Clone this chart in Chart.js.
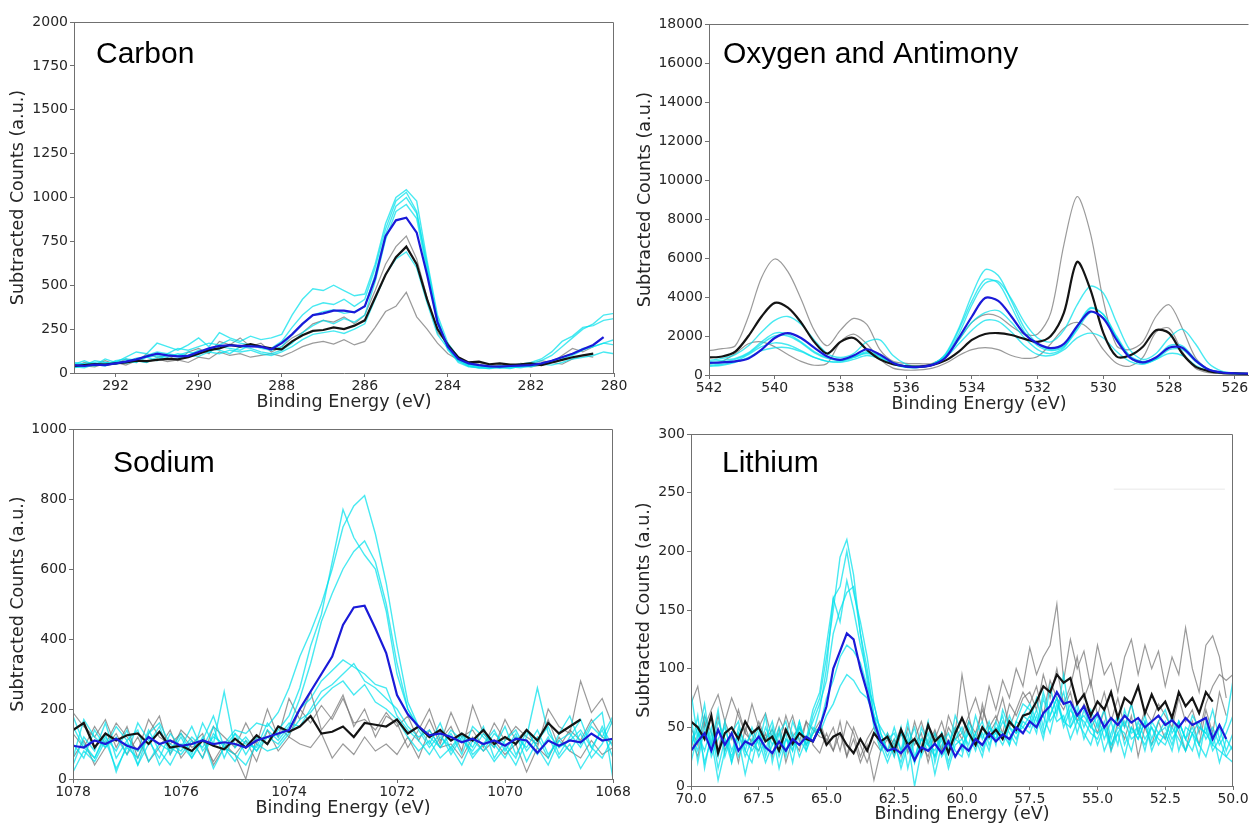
<!DOCTYPE html>
<html>
<head>
<meta charset="utf-8">
<title>XPS spectra</title>
<script src="https://cdn.jsdelivr.net/npm/chart.js@4.4.0/dist/chart.umd.min.js"></script>
<style>
  html, body { margin: 0; padding: 0; background: #fff; }
  #wrap { position: relative; width: 1249px; height: 825px; overflow: hidden; }
  #wrap canvas { position: absolute; left: 0; top: 0; }
</style>
</head>
<body>
<div id="wrap">
  <canvas id="carbon" width="1249" height="825"></canvas>
  <canvas id="oxygen" width="1249" height="825"></canvas>
  <canvas id="sodium" width="1249" height="825"></canvas>
  <canvas id="lithium" width="1249" height="825"></canvas>
</div>
<script>
// ---------- Carbon 1s ----------
const carbonEnergy = [
  293, 292.75, 292.5, 292.25, 292, 291.75, 291.5, 291.25, 291, 290.75,
  290.5, 290.25, 290, 289.75, 289.5, 289.25, 289, 288.75, 288.5, 288.25,
  288, 287.75, 287.5, 287.25, 287, 286.75, 286.5, 286.25, 286, 285.75,
  285.5, 285.25, 285, 284.75, 284.5, 284.25, 284, 283.75, 283.5, 283.25,
  283, 282.75, 282.5, 282.25, 282, 281.75, 281.5, 281.25, 281, 280.75,
  280.5, 280.25, 280
];
const carbonGrayA = [
  30, 60, 45, 70, 50, 80, 60, 110, 90, 100,
  70, 120, 140, 110, 180, 160, 200, 150, 170, 120,
  150, 200, 230, 280, 300, 290, 320, 280, 330, 470,
  620, 720, 780, 650, 430, 230, 170, 80, 60, 50,
  40, 45, 40, 55, 50, 70, 60, 100, 140, 120,
  150, null, null
];
const carbonGrayB = [
  50, 40, 35, 55, 60, 45, 70, 60, 80, 65,
  75, 60, 90, 80, 120, 100, 110, 90, 100, 110,
  95, 120, 150, 170, 180, 165, 190, 160, 180, 260,
  350, 380, 460, 320, 250, 170, 110, 75, 50, 60,
  45, 30, 40, 50, 35, 45, 60, 50, 80, 100,
  90, null, null
];
const carbonBlack = [
  40, 45, 50, 48, 55, 60, 70, 68, 75, 80,
  78, 90, 110, 130, 140, 160, 150, 165, 150, 140,
  135, 180, 215, 240, 245, 260, 250, 270, 300, 430,
  560, 660, 720, 620, 420, 250, 160, 90, 60, 65,
  50, 55, 48, 50, 55, 45, 60, 75, 90, 100,
  110, null, null
];
const carbonCyanA = [
  50, 70, 45, 80, 60, 90, 120, 110, 170, 150,
  130, 160, 200, 150, 230, 200, 180, 210, 190, 200,
  220, 330, 420, 480, 470, 500, 470, 440, 450, 620,
  850, 1000, 1045, 980, 640, 330, 170, 90, 50, 35,
  30, 40, 35, 45, 55, 70, 100, 150, 200, 250,
  280, 330, 340
];
const carbonCyanB = [
  40, 55, 60, 45, 70, 80, 75, 100, 120, 110,
  140, 130, 150, 170, 160, 190, 170, 160, 150, 140,
  180, 260, 330, 380, 400, 390, 420, 380, 420, 600,
  820, 980, 1030, 920, 600, 300, 150, 80, 45, 40,
  35, 30, 40, 50, 60, 80, 120, 180, 210, 260,
  270, 300, 310
];
const carbonCyanC = [
  30, 45, 70, 60, 50, 65, 85, 90, 70, 110,
  100, 120, 110, 140, 130, 110, 150, 140, 120, 110,
  130, 170, 230, 270, 300, 280, 310, 290, 330, 520,
  760, 920, 960, 880, 580, 280, 130, 70, 40, 30,
  25, 40, 30, 35, 45, 55, 60, 80, 100, 130,
  150, 170, 190
];
const carbonCyanD = [
  35, 30, 50, 40, 65, 55, 70, 60, 90, 80,
  85, 100, 95, 120, 110, 130, 120, 130, 110, 100,
  120, 150, 190, 220, 230, 240, 225, 250, 280, 420,
  560, 650, 690, 600, 400, 220, 140, 70, 40, 30,
  25, 30, 35, 30, 40, 50, 45, 60, 80, 90,
  100, 120, 110
];
const carbonCyanE = [
  60, 50, 40, 60, 55, 70, 60, 90, 100, 90,
  110, 100, 130, 120, 150, 140, 130, 160, 140, 130,
  150, 220, 280, 330, 350, 360, 340, 350, 380, 560,
  790, 950, 1000, 910, 620, 310, 140, 60, 35, 30,
  40, 30, 25, 40, 35, 50, 70, 90, 110, 140,
  150, 170, 160
];
const carbonBlue = [
  45, 40, 48, 45, 55, 65, 78, 95, 110, 100,
  95, 98, 120, 140, 155, 158, 155, 152, 150, 135,
  170, 220, 280, 330, 340, 355, 355, 345, 380, 540,
  780, 870, 885, 800, 560, 290, 150, 80, 55, 45,
  38, 36, 40, 42, 45, 55, 70, 90, 110, 135,
  160, 205, null
];
const carbonTicksX = [280, 282, 284, 286, 288, 290, 292];
const carbonTicksY = [0, 250, 500, 750, 1000, 1250, 1500, 1750, 2000];

// ---------- O 1s / Sb 3d ----------
const oxygenEnergy = [
  542, 541.6, 541.2, 540.8, 540.4, 540, 539.6, 539.2, 538.8, 538.4,
  538, 537.6, 537.2, 536.8, 536.4, 536, 535.6, 535.2, 534.8, 534.4,
  534, 533.6, 533.2, 532.8, 532.4, 532, 531.6, 531.2, 530.8, 530.4,
  530, 529.6, 529.2, 528.8, 528.4, 528, 527.6, 527.2, 526.8, 526.4,
  526, 525.6
];
const oxygenGrayA = [
  1250, 1350, 1500, 3000, 5000, 5950, 5300, 3900, 2300, 1500,
  2300, 2900, 2600, 1300, 700, 600, 580, 600, 1000, 1800,
  2700, 3100, 3000, 2500, 2100, 2100, 3200, 6700, 9150, 7300,
  3800, 1500, 1300, 1700, 3000, 3600, 2400, 900, 300, 150,
  100, 80
];
const oxygenGrayB = [
  550, 700, 1100, 1600, 1700, 1450, 1050, 700, 500, 600,
  1700, 2100, 1600, 800, 350, 250, 260, 350, 600, 1000,
  1300, 1400, 1300, 1000, 850, 950, 1600, 2400, 2700, 2300,
  1300, 600, 450, 900, 2200, 2400, 1200, 350, 120, 70,
  50, 40
];
const oxygenBlack = [
  900, 950, 1200, 2000, 3000, 3700, 3450, 2700, 1700, 1100,
  1700, 1900, 1300, 800, 550, 450, 430, 520, 750, 1200,
  1800, 2100, 2150, 2050, 1850, 1700, 2000, 3200, 5800, 4400,
  2150, 950, 1000, 1450, 2300, 2150, 1100, 430, 200, 110,
  80, 60
];
const oxygenCyanA = [
  700, 750, 850, 1150, 1700, 2150, 2100, 1700, 1200, 900,
  800, 950, 1200, 1000, 650, 450, 400, 550, 1100, 2400,
  4100, 5400, 5100, 3800, 2400, 1600, 1300, 1500, 2400, 3400,
  3100, 2000, 1000, 700, 900, 1500, 1500, 800, 300, 130,
  90, 70
];
const oxygenCyanB = [
  750, 850, 1050, 1500, 2200, 2800, 3000, 2600, 1800, 1100,
  900, 1100, 1700, 1800, 1000, 550, 450, 550, 1000, 2100,
  3600, 4700, 4800, 3900, 2700, 1900, 1700, 2300, 3600, 4550,
  4200, 2700, 1300, 800, 1100, 1900, 2350, 1600, 600, 200,
  100, 70
];
const oxygenCyanC = [
  450, 500, 650, 900, 1250, 1400, 1400, 1200, 900, 700,
  650, 800, 1000, 850, 550, 400, 400, 550, 950, 1800,
  2700, 3200, 3300, 2700, 1900, 1300, 1100, 1400, 2500, 3450,
  3100, 1900, 900, 600, 800, 1300, 1300, 700, 250, 110,
  80, 60
];
const oxygenCyanD = [
  500, 550, 700, 1050, 1450, 1650, 1550, 1250, 900, 700,
  700, 900, 1100, 900, 550, 400, 400, 550, 900, 1600,
  2300, 2800, 2750, 2200, 1500, 1050, 1000, 1300, 1900, 2150,
  1900, 1200, 700, 550, 800, 1100, 1000, 500, 200, 100,
  70, 50
];
const oxygenCyanE = [
  600, 650, 800, 1100, 1600, 2000, 2000, 1650, 1150, 850,
  750, 900, 1150, 950, 600, 420, 400, 550, 1050, 2300,
  3800, 4900, 4700, 3500, 2200, 1500, 1250, 1450, 2300, 3200,
  2950, 1900, 950, 650, 850, 1400, 1400, 750, 280, 120,
  80, 60
];
const oxygenBlue = [
  620, 650, 700, 850, 1300, 1900, 2150, 1900, 1400, 950,
  780, 1000, 1320, 1050, 620, 430, 420, 520, 900, 1900,
  3000, 3950, 3800, 3000, 2100, 1600, 1380, 1600, 2500, 3250,
  2900, 1800, 900, 650, 900, 1400, 1400, 750, 280, 130,
  90, 70
];
const oxygenTicksX = [526, 528, 530, 532, 534, 536, 538, 540, 542];
const oxygenTicksY = [0, 2000, 4000, 6000, 8000, 10000, 12000, 14000, 16000, 18000];

// ---------- Na 1s ----------
const sodiumEnergy = [
  1078, 1077.8, 1077.6, 1077.4, 1077.2, 1077, 1076.8, 1076.6, 1076.4, 1076.2,
  1076, 1075.8, 1075.6, 1075.4, 1075.2, 1075, 1074.8, 1074.6, 1074.4, 1074.2,
  1074, 1073.8, 1073.6, 1073.4, 1073.2, 1073, 1072.8, 1072.6, 1072.4, 1072.2,
  1072, 1071.8, 1071.6, 1071.4, 1071.2, 1071, 1070.8, 1070.6, 1070.4, 1070.2,
  1070, 1069.8, 1069.6, 1069.4, 1069.2, 1069, 1068.8, 1068.6, 1068.4, 1068.2,
  1068
];
const sodiumGrayA = [
  190, 150, 120, 170, 90, 150, 60, 130, 180, 70,
  140, 110, 60, 150, 120, 90, 160, 100, 200, 120,
  230, 170, 250, 140, 180, 240, 150, 200, 120, 180,
  160, 90, 140, 200, 110, 150, 80, 210, 130, 90,
  170, 110, 140, 90, 200, 150, 130, 280, 190, 230,
  150
];
const sodiumGrayB = [
  60, 110, 40, 90, 130, 70, 120, 50, 90, 140,
  60, 100, 130, 40, 90, 70, 110, 50, 140, 80,
  120, 100, 90, 130, 60, 100, 70, 120, 80, 100,
  70, 120, 60, 140, 90, 100, 60, 120, 80, 110,
  70, 100, 20, 90, 60, 120, 80, 60, 110, 70,
  90
];
const sodiumGrayC = [
  130, 90, 150, 100, 160, 120, 80, 170, 120, 100,
  130, 90, 110, 50, 100, 70, 0, 120, 100, 150,
  120, 200, 160, 210, 170, 230, 160, 170, 140, 190,
  150, 180, 110, 170, 100, 190, 120, 140, 90, 160,
  110, 150, 120, 100, 170, 90, 140, 110, 170, 120,
  100
];
const sodiumBlack = [
  140, 160, 90, 130, 110, 125, 130, 100, 135, 90,
  95, 80, 110, 95, 85, 115, 90, 125, 100, 150,
  135, 150, 180, 130, 135, 150, 120, 160, 155, 150,
  170, 130, 150, 120, 140, 110, 130, 110, 140, 100,
  120, 100, 140, 110, 160, 130, 150, 170, null, null,
  null
];
const sodiumCyanA = [
  100, 60, 140, 90, 120, 70, 160, 110, 60, 130,
  90, 150, 80, 120, 100, 140, 130, 160, 150, 190,
  260, 350, 420, 500, 600, 720, 780, 810, 700, 560,
  380, 220, 150, 120, 90, 140, 110, 80, 130, 100,
  60, 120, 90, 140, 70, 110, 130, 90, 150, 120,
  180
];
const sodiumCyanB = [
  150, 90, 60, 120, 80, 140, 40, 100, 150, 70,
  120, 60, 110, 180, 90, 130, 70, 120, 100, 140,
  180, 260, 380, 470, 620, 770, 690, 640, 600, 480,
  300, 200, 140, 90, 130, 70, 120, 60, 100, 140,
  80, 130, 50, 110, 150, 70, 120, 170, 90, 140,
  60
];
const sodiumCyanC = [
  40, 120, 80, 160, 60, 110, 140, 50, 100, 80,
  130, 70, 160, 100, 250, 90, 120, 80, 140, 110,
  150, 230, 330, 450, 530, 600, 650, 680, 620, 500,
  330, 200, 150, 100, 160, 80, 130, 90, 150, 60,
  110, 140, 80, 120, 60, 130, 180, 100, 160, 190,
  0
];
const sodiumCyanD = [
  180, 100, 60, 130, 20, 100, 80, 120, 40, 90,
  70, 110, 60, 130, 90, 50, 110, 80, 120, 100,
  140, 200, 230, 280, 310, 340, 320, 300, 270, 260,
  180, 140, 110, 70, 120, 90, 40, 110, 80, 130,
  100, 60, 140, 90, 40, 110, 80, 130, 60, 100,
  170
];
const sodiumCyanE = [
  60, 170, 120, 90, 150, 110, 40, 130, 160, 100,
  80, 120, 90, 150, 60, 130, 100, 90, 160, 120,
  160, 150, 200, 250, 270, 300, 330, 280, 260, 230,
  200, 150, 120, 140, 90, 130, 70, 150, 120, 90,
  150, 70, 120, 260, 130, 90, 110, 140, 90, 60,
  120
];
const sodiumCyanF = [
  20, 80, 50, 110, 30, 90, 60, 140, 80, 40,
  100, 60, 120, 30, 90, 70, 40, 100, 80, 90,
  130, 170, 190, 230, 260, 280, 240, 270, 220, 200,
  170, 120, 80, 110, 60, 90, 130, 70, 100, 50,
  90, 40, 110, 70, 120, 60, 100, 30, 80, 150,
  90
];
const sodiumBlue = [
  95, 90, 110, 100, 115, 95, 85, 120, 100, 110,
  95, 100, 110, 100, 105, 100, 90, 110, 120, 130,
  140, 200, 250, 300, 350, 440, 490, 495, 430, 360,
  240, 185, 150, 125, 130, 120, 105, 115, 100, 110,
  95, 115, 110, 75, 110, 95, 110, 105, 130, 110,
  115
];
const sodiumTicksX = [1068, 1070, 1072, 1074, 1076, 1078];
const sodiumTicksY = [0, 200, 400, 600, 800, 1000];

// ---------- Li 1s ----------
const lithiumEnergy = [
  70, 69.75, 69.5, 69.25, 69, 68.75, 68.5, 68.25, 68, 67.75,
  67.5, 67.25, 67, 66.75, 66.5, 66.25, 66, 65.75, 65.5, 65.25,
  65, 64.75, 64.5, 64.25, 64, 63.75, 63.5, 63.25, 63, 62.75,
  62.5, 62.25, 62, 61.75, 61.5, 61.25, 61, 60.75, 60.5, 60.25,
  60, 59.75, 59.5, 59.25, 59, 58.75, 58.5, 58.25, 58, 57.75,
  57.5, 57.25, 57, 56.75, 56.5, 56.25, 56, 55.75, 55.5, 55.25,
  55, 54.75, 54.5, 54.25, 54, 53.75, 53.5, 53.25, 53, 52.75,
  52.5, 52.25, 52, 51.75, 51.5, 51.25, 51, 50.75, 50.5, 50.25,
  50
];
const lithiumGrayA = [
  70, 85, 50, 65, 78, 55, 75, 60, 45, 70,
  50, 62, 40, 58, 45, 60, 38, 55, 48, 42,
  40, 30, 45, 25, 50, 35, 20, 38, 30, 45,
  35, 50, 28, 40, 55, 35, 48, 30, 60, 45,
  95, 60, 75, 55, 85, 65, 90, 75, 100, 85,
  118, 95, 110, 120, 155, 90, 125, 100, 115, 85,
  120, 95, 105, 80, 110, 125, 95, 120, 100, 115,
  85, 110, 95, 135, 100, 80, 120, 128, 110, 75,
  null
];
const lithiumGrayB = [
  40, 25, 55, 35, 60, 30, 45, 20, 50, 35,
  30, 45, 25, 50, 20, 40, 30, 55, 35, 28,
  45, 30, 55, 25, 40, 20, 35, 5, 30, 40,
  25, 45, 30, 55, 35, 25, 45, 30, 50, 40,
  45, 60, 35, 70, 45, 55, 75, 50, 65, 80,
  70, 85, 60, 90, 75, 65, 80, 55, 70, 60,
  45, 65, 30, 55, 40, 60, 25, 50, 35, 55,
  40, 60, 45, 30, 55, 35, 65, 45, 80, 60,
  null
];
const lithiumGrayC = [
  50, 35, 60, 45, 30, 55, 40, 65, 45, 38,
  55, 40, 48, 35, 60, 42, 50, 35, 45, 55,
  38, 50, 30, 55, 45, 25, 40, 50, 35, 30,
  40, 25, 50, 35, 45, 20, 40, 55, 35, 50,
  40, 55, 45, 65, 50, 60, 45, 70, 60, 75,
  80, 65, 95, 75, 100, 70, 85, 110, 75, 90,
  60, 80, 55, 75, 50, 70, 45, 65, 55, 70,
  60, 50, 75, 55, 65, 45, 70, 85, 95, 90,
  95
];
const lithiumBlack = [
  55, 50, 40, 60, 28, 45, 50, 40, 55, 45,
  50, 38, 42, 30, 48, 36, 45, 40, 38, 50,
  35, 42, 45, 35, 28, 40, 30, 45, 38, 42,
  30, 48, 35, 40, 30, 52, 38, 44, 28, 45,
  58, 45, 35, 50, 42, 48, 40, 55, 48, 60,
  62, 72, 85, 80, 95, 88, 92, 70, 78, 60,
  72, 65, 80, 58, 75, 70, 85, 62, 78, 65,
  72, 58, 80, 68, 75, 62, 80, 72, null, null,
  null
];
const lithiumCyanA = [
  30, 60, 15, 45, 25, 55, 20, 40, 10, 35,
  50, 25, 45, 15, 40, 30, 55, 35, 60, 75,
  110, 150, 195, 210, 180, 130, 90, 50, 30, 45,
  25, 50, 15, 40, 30, 55, 20, 45, 35, 50,
  30, 55, 40, 25, 50, 45, 60, 35, 55, 70,
  65, 50, 80, 60, 75, 55, 70, 45, 65, 50,
  60, 40, 55, 35, 65, 45, 50, 30, 55, 45,
  40, 60, 30, 50, 45, 25, 55, 35, 50, 30,
  45
];
const lithiumCyanB = [
  60, 20, 50, 35, 65, 25, 45, 55, 30, 50,
  35, 60, 20, 45, 55, 30, 50, 40, 65, 80,
  120, 160, 170, 200, 165, 140, 110, 70, 45, 30,
  50, 30, 45, 20, 50, 35, 25, 45, 30, 60,
  45, 35, 60, 40, 55, 35, 65, 50, 45, 60,
  55, 75, 50, 85, 60, 95, 55, 70, 50, 65,
  50, 65, 40, 60, 50, 70, 45, 60, 40, 55,
  65, 45, 55, 40, 60, 50, 45, 65, 40, 55,
  90
];
const lithiumCyanC = [
  80, 40, 70, 30, 55, 40, 20, 50, 35, 45,
  25, 40, 55, 30, 45, 20, 50, 35, 45, 65,
  100, 160, 140, 175, 150, 120, 95, 60, 40, 25,
  40, 15, 35, 50, 25, 40, 10, 35, 45, 30,
  25, 50, 35, 45, 30, 55, 40, 60, 45, 50,
  45, 60, 40, 70, 55, 60, 40, 55, 45, 35,
  55, 30, 45, 60, 35, 50, 40, 55, 30, 45,
  50, 35, 55, 40, 30, 50, 45, 35, 30, 25,
  35
];
const lithiumCyanD = [
  20, 45, 30, 50, 15, 40, 25, 45, 30, 20,
  45, 30, 50, 25, 40, 35, 55, 30, 45, 50,
  75, 90, 110, 120, 115, 105, 85, 70, 45, 30,
  30, 45, 35, 20, 40, 30, 45, 25, 35, 40,
  50, 30, 45, 55, 35, 50, 45, 35, 55, 50,
  60, 45, 75, 55, 65, 80, 50, 60, 55, 45,
  40, 55, 35, 50, 45, 30, 55, 40, 50, 35,
  45, 30, 55, 40, 50, 35, 25, 45, 20, 40,
  30
];
const lithiumCyanE = [
  45, 30, 60, 25, 40, 50, 30, 45, 25, 40,
  30, 50, 35, 45, 25, 55, 40, 30, 50, 45,
  60, 70, 85, 95, 90, 80, 75, 60, 50, 40,
  45, 30, 55, 25, 40, 35, 30, 45, 20, 40,
  35, 45, 30, 50, 40, 45, 35, 50, 40, 55,
  50, 65, 45, 60, 75, 50, 65, 55, 60, 50,
  45, 50, 35, 45, 55, 40, 45, 35, 50, 40,
  35, 50, 40, 30, 45, 35, 50, 30, 40, 25,
  20
];
const lithiumCyanF = [
  35, 50, 20, 40, 5, 30, 45, 25, 40, 30,
  40, 20, 35, 50, 30, 45, 25, 40, 55, 70,
  90, 130, 150, 165, 170, 130, 100, 60, 35, 20,
  35, 20, 40, 0, 30, 45, 25, 40, 15, 35,
  40, 25, 45, 30, 50, 40, 55, 45, 35, 60,
  70, 55, 60, 45, 70, 55, 50, 65, 40, 55,
  35, 50, 30, 45, 25, 50, 40, 55, 35, 45,
  55, 40, 50, 30, 45, 55, 40, 50, 35, 45,
  60
];
const lithiumBlue = [
  30, 38, 45, 30, 48, 35, 45, 30, 38, 35,
  42, 33, 28, 38, 30, 40, 35, 42, 38, 50,
  68, 100, 115, 130, 125, 100, 80, 55, 38, 30,
  32, 28, 35, 22, 33, 30, 36, 28, 38, 25,
  35, 30, 40, 35, 45, 38, 44, 40, 50, 45,
  55, 50, 62, 68, 80, 70, 72, 60, 68, 55,
  62, 50, 58, 52, 60, 54, 58, 50, 55, 60,
  52, 56, 50, 58, 52, 55, 58, 40, 52, 40,
  null
];
// stray faint line left over in the upper right of the Li panel
const lithiumStrayEnergy = [54.4, 50.3];
const lithiumStray = [253, 253];
const lithiumTicksX = [50, 52.5, 55, 57.5, 60, 62.5, 65, 67.5, 70];
const lithiumTicksY = [0, 50, 100, 150, 200, 250, 300];

// ---------- styling ----------
const GRAY = 'rgba(115, 115, 115, 0.72)';
const CYAN = 'rgba(0, 225, 235, 0.72)';
const BLACK = '#141414';
const BLUE = '#1a1ad8';
const TEXT = '#262626';
const FRAME = '#707070';
const FONT = '"DejaVu Sans", Verdana, sans-serif';

function gray(values) { return { values, color: GRAY, width: 1.2, order: 4 }; }
function cyan(values) { return { values, color: CYAN, width: 1.4, order: 3 }; }
function black(values) { return { values, color: BLACK, width: 2.2, order: 2 }; }
function blue(values) { return { values, color: BLUE, width: 2.2, order: 1 }; }

// box around the plotting area, like matplotlib spines
const framePlugin = {
  id: 'frame',
  afterDatasetsDraw(chart, args, opts) {
    const { ctx, chartArea: a } = chart;
    ctx.save();
    ctx.strokeStyle = FRAME;
    ctx.lineWidth = 1;
    ctx.beginPath();
    ctx.moveTo(a.left + 0.5, a.bottom + 0.5);
    ctx.lineTo(a.left + 0.5, a.top + 0.5);
    ctx.lineTo(a.right - 0.5, a.top + 0.5);
    if (opts.right !== false) ctx.lineTo(a.right - 0.5, a.bottom + 0.5);
    ctx.stroke();
    ctx.restore();
  }
};

// element label written inside the axes
const panelTitlePlugin = {
  id: 'panelTitle',
  afterDraw(chart, args, opts) {
    const { ctx, chartArea: a } = chart;
    ctx.save();
    ctx.font = '30px "Liberation Sans", Arial, sans-serif';
    ctx.fillStyle = '#000';
    ctx.textBaseline = 'alphabetic';
    ctx.textAlign = 'left';
    ctx.fillText(opts.text, a.left + opts.dx, a.top + opts.dy);
    ctx.restore();
  }
};

function makePanel(id, p) {
  const datasets = p.series.map(s => ({
    data: p.energy.map((x, i) => ({ x: x, y: s.values[i] })),
    borderColor: s.color,
    borderWidth: s.width,
    pointRadius: 0,
    showLine: true,
    fill: false,
    tension: p.tension || 0,
    spanGaps: false,
    order: s.order
  }));
  if (p.extra) datasets.push(p.extra);

  const tickFont = { family: FONT, size: 14 };
  const titleFont = { family: FONT, size: 17.5 };

  return new Chart(document.getElementById(id), {
    type: 'scatter',
    data: { datasets },
    options: {
      responsive: false,
      animation: false,
      devicePixelRatio: 1,
      events: [],
      layout: { padding: p.pad },
      plugins: {
        legend: { display: false },
        tooltip: { enabled: false },
        frame: { right: p.rightFrame },
        panelTitle: { text: p.title, dx: p.titleDx, dy: p.titleDy }
      },
      scales: {
        x: {
          type: 'linear',
          reverse: true,
          min: p.xMin,
          max: p.xMax,
          afterBuildTicks: sc => { sc.ticks = p.xTicks.map(v => ({ value: v })); },
          afterFit: sc => { sc.height = p.xHeight; },
          ticks: {
            font: tickFont, color: TEXT, padding: 1,
            maxRotation: 0, autoSkip: false,
            callback: v => p.xFmt ? p.xFmt(v) : String(v)
          },
          grid: { drawOnChartArea: false, drawTicks: true, tickLength: 4, color: FRAME },
          border: { display: true, color: FRAME, width: 1 },
          title: {
            display: true, text: 'Binding Energy (eV)', font: titleFont, color: TEXT,
            padding: { top: 0, bottom: 0 }
          }
        },
        y: {
          type: 'linear',
          min: p.yTicks[0],
          max: p.yTicks[p.yTicks.length - 1],
          afterBuildTicks: sc => { sc.ticks = p.yTicks.map(v => ({ value: v })); },
          afterFit: sc => { sc.width = p.yWidth; },
          ticks: {
            font: tickFont, color: TEXT, padding: 2, autoSkip: false,
            callback: v => String(v)
          },
          grid: { drawOnChartArea: false, drawTicks: true, tickLength: 4, color: FRAME },
          border: { display: true, color: FRAME, width: 1 },
          title: {
            display: true, text: 'Subtracted Counts (a.u.)', font: titleFont, color: TEXT,
            padding: { top: p.yTitlePad, bottom: 0 }
          }
        }
      }
    },
    plugins: [framePlugin, panelTitlePlugin]
  });
}

makePanel('carbon', {
  title: 'Carbon', titleDx: 22, titleDy: 41,
  energy: carbonEnergy,
  series: [gray(carbonGrayA), gray(carbonGrayB), cyan(carbonCyanA), cyan(carbonCyanB),
           cyan(carbonCyanC), cyan(carbonCyanD), cyan(carbonCyanE),
           black(carbonBlack), blue(carbonBlue)],
  xMin: 280, xMax: 293, xTicks: carbonTicksX, yTicks: carbonTicksY,
  pad: { left: 0, top: 22, right: 635, bottom: 412 },
  yWidth: 74, xHeight: 40, yTitlePad: 8
});

// this panel runs off the right edge of the figure
makePanel('oxygen', {
  title: 'Oxygen and Antimony', titleDx: 14, titleDy: 39,
  energy: oxygenEnergy, tension: 0.3,
  series: [gray(oxygenGrayA), gray(oxygenGrayB), cyan(oxygenCyanA), cyan(oxygenCyanB),
           cyan(oxygenCyanC), cyan(oxygenCyanD), cyan(oxygenCyanE),
           black(oxygenBlack), blue(oxygenBlue)],
  xMin: 525.57, xMax: 542, xTicks: oxygenTicksX, yTicks: oxygenTicksY,
  pad: { left: 625, top: 24, right: 0, bottom: 410 },
  yWidth: 84, xHeight: 40, yTitlePad: 9.5, rightFrame: false
});

makePanel('sodium', {
  title: 'Sodium', titleDx: 40, titleDy: 43,
  energy: sodiumEnergy,
  series: [gray(sodiumGrayA), gray(sodiumGrayB), gray(sodiumGrayC),
           cyan(sodiumCyanA), cyan(sodiumCyanB), cyan(sodiumCyanC),
           cyan(sodiumCyanD), cyan(sodiumCyanE), cyan(sodiumCyanF),
           black(sodiumBlack), blue(sodiumBlue)],
  xMin: 1068, xMax: 1078, xTicks: sodiumTicksX, yTicks: sodiumTicksY,
  pad: { left: 0, top: 429, right: 636, bottom: 6 },
  yWidth: 73, xHeight: 40, yTitlePad: 8
});

makePanel('lithium', {
  title: 'Lithium', titleDx: 31, titleDy: 38,
  energy: lithiumEnergy,
  series: [gray(lithiumGrayA), gray(lithiumGrayB), gray(lithiumGrayC),
           cyan(lithiumCyanA), cyan(lithiumCyanB), cyan(lithiumCyanC),
           cyan(lithiumCyanD), cyan(lithiumCyanE), cyan(lithiumCyanF),
           black(lithiumBlack), blue(lithiumBlue)],
  extra: {
    data: lithiumStrayEnergy.map((x, i) => ({ x: x, y: lithiumStray[i] })),
    borderColor: '#e8e8e8', borderWidth: 1, pointRadius: 0, showLine: true, order: 5
  },
  xMin: 50, xMax: 70, xTicks: lithiumTicksX, yTicks: lithiumTicksY,
  xFmt: v => v.toFixed(1),
  pad: { left: 625, top: 434, right: 16, bottom: 0 },
  yWidth: 66, xHeight: 39, yTitlePad: 9
});
</script>
</body>
</html>
